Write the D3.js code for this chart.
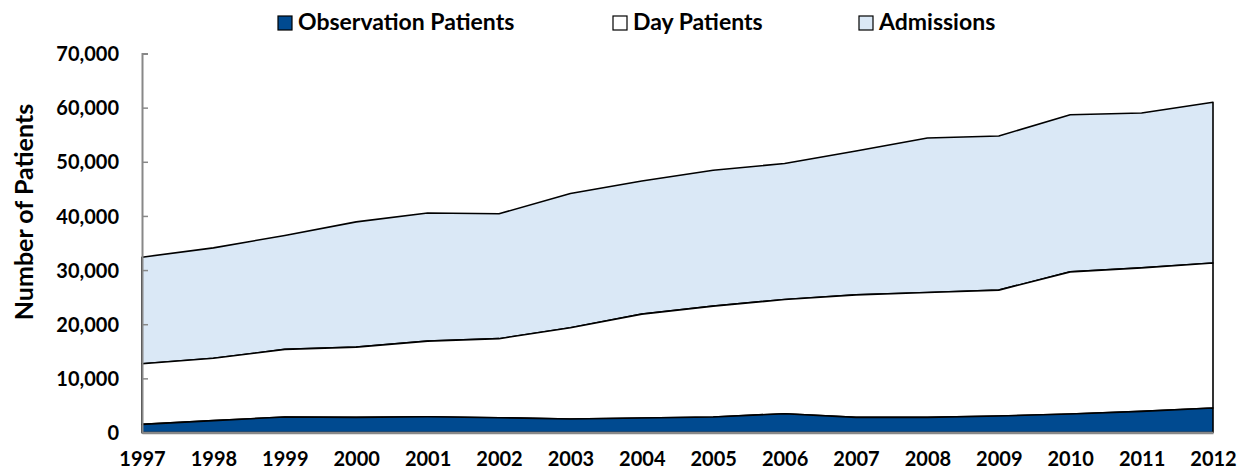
<!DOCTYPE html>
<html>
<head>
<meta charset="utf-8">
<script src="https://cdn.jsdelivr.net/npm/d3@7"></script>
<style>
    body { margin: 0; background: #fff; }
    #chart { width: 1245px; height: 470px; }
    text { font-family: Lato, "Open Sans", sans-serif; font-weight: bold; fill: #000; }
</style>
</head>
<body>
<div id="chart"></div>
<script>
// data
const years = [1997, 1998, 1999, 2000, 2001, 2002, 2003, 2004, 2005, 2006, 2007, 2008, 2009, 2010, 2011, 2012];
const observation = [1500, 2200, 2860, 2800, 2900, 2730, 2490, 2680, 2860, 3470, 2800, 2800, 3040, 3410, 3900, 4520];
const dayPatients = [11200, 11500, 12490, 12970, 13980, 14600, 16850, 19180, 20480, 21100, 22620, 23070, 23260, 26260, 26500, 26780];
const admissions = [19680, 20400, 21050, 23130, 23670, 23070, 24790, 24600, 25090, 25110, 26580, 28530, 28460, 29030, 28600, 29700];
const seriesNames = ["Observation Patients", "Day Patients", "Admissions"];
const seriesColors = ["#004a90", "#ffffff", "#dae8f6"];
const yTicks = [0, 10000, 20000, 30000, 40000, 50000, 60000, 70000];

const width = 1245;
const height = 470;
const margin = {top: 53.5, left: 142, right: 32, bottom: 37.5};

const svg = d3.select("#chart")
    .append("svg")
    .attr("width", width)
    .attr("height", height);

// build rows for d3.stack
const rows = years.map(function(y, i) {
    return {year: y, "Observation Patients": observation[i], "Day Patients": dayPatients[i], "Admissions": admissions[i]};
});
const stacked = d3.stack().keys(seriesNames)(rows);

const xScale = d3.scaleLinear()
    .domain([d3.min(years), d3.max(years)])
    .range([margin.left, width - margin.right]);

const yScale = d3.scaleLinear()
    .domain([0, 70000])
    .range([height - margin.bottom, margin.top]);

const fillScale = d3.scaleOrdinal()
    .domain(seriesNames)
    .range(seriesColors);

const area = d3.area()
    .x(function(d) { return xScale(d.data.year); })
    .y0(function(d) { return yScale(d[0]); })
    .y1(function(d) { return yScale(d[1]); });

// draw top series first so lower ones sit on top
svg.selectAll("path.layer")
    .data(stacked.slice().reverse())
    .enter()
    .append("path")
        .attr("class", "layer")
        .attr("d", area)
        .attr("fill", function(d) { return fillScale(d.key); })
        .attr("stroke", "#000")
        .attr("stroke-width", 1.6)
        .attr("stroke-linejoin", "round");

// y axis
const yAxis = svg.append("g")
    .attr("transform", `translate(${margin.left},0)`)
    .call(d3.axisRight(yScale).tickValues(yTicks).tickSize(6).tickFormat(d3.format(",")));
yAxis.select(".domain").attr("stroke", "#888").attr("stroke-width", 2);
yAxis.selectAll(".tick line").attr("stroke", "#888").attr("stroke-width", 1.5);
yAxis.selectAll(".tick text")
    .attr("x", -23)
    .attr("text-anchor", "end")
    .attr("dy", "0.36em")
    .style("font-size", "20px");

// x axis
const xAxis = svg.append("g")
    .attr("transform", `translate(0,${height - margin.bottom})`)
    .call(d3.axisBottom(xScale).tickValues(years).tickSize(0).tickFormat(d3.format("d")));
xAxis.select(".domain").attr("stroke", "#888").attr("stroke-width", 2.5);
xAxis.selectAll(".tick text")
    .attr("y", 19)
    .attr("dy", "0.71em")
    .style("font-size", "20px");

// y axis title
svg.append("text")
    .attr("transform", "rotate(-90)")
    .attr("x", -212)
    .attr("y", 33)
    .attr("text-anchor", "middle")
    .style("font-size", "25px")
    .text("Number of Patients");

// legend
const legendX = [278, 613, 859];
const legend = svg.selectAll("g.legend")
    .data(seriesNames)
    .enter()
    .append("g")
        .attr("class", "legend")
        .attr("transform", function(d, i) { return `translate(${legendX[i]},16)`; });

legend.append("rect")
    .attr("width", 14)
    .attr("height", 14)
    .attr("fill", function(d) { return fillScale(d); })
    .attr("stroke", "#000")
    .attr("stroke-width", 1.2);

legend.append("text")
    .attr("x", 20)
    .attr("y", 14)
    .style("font-size", "23px")
    .text(function(d) { return d; });
</script>
</body>
</html>
